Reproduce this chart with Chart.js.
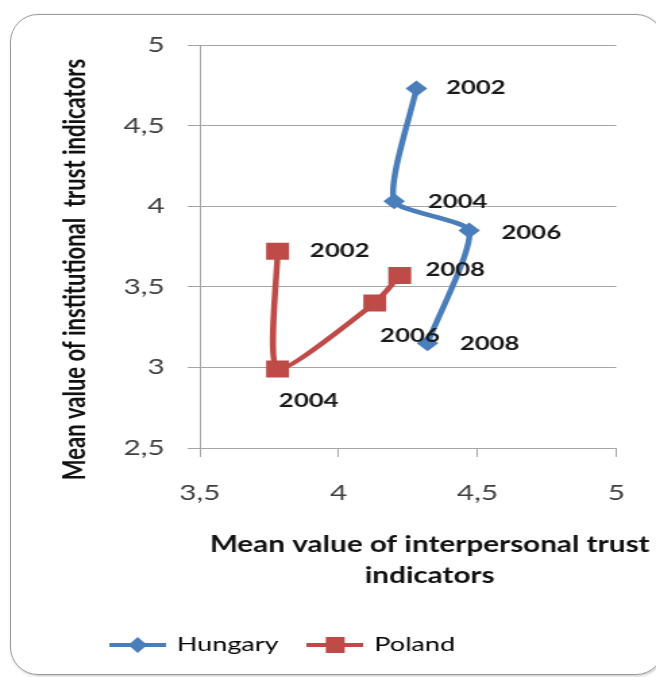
<!DOCTYPE html>
<html>
<head>
<meta charset="utf-8">
<script src="https://cdn.jsdelivr.net/npm/chart.js@4.4.0/dist/chart.umd.min.js"></script>
<style>
  body { margin: 0; background: #fff; }
  #wrap { position: relative; width: 656px; height: 677px; overflow: hidden; }
  #frame {
    position: absolute; left: 10px; top: 14px; width: 652px; height: 659px;
    border: 1.5px solid #9a9a9a; border-radius: 28px;
    box-shadow: 1px 1px 3px rgba(0,0,0,0.25);
  }
  #chart { position: absolute; left: 0; top: 0; transform: scaleX(1.3498); transform-origin: 0 0; }
</style>
</head>
<body>
<div id="wrap">
  <div id="frame"></div>
  <canvas id="chart" width="486" height="677"></canvas>
</div>
<script>
// the original picture is an Excel chart stretched sideways, so the canvas is drawn narrow and scaled in x
const years = ['2002', '2004', '2006', '2008'];
const countries = ['Hungary', 'Poland'];

const hungaryX = [4.28, 4.20, 4.47, 4.32];
const hungaryY = [4.73, 4.03, 3.85, 3.15];
const polandX = [3.78, 3.78, 4.13, 4.22];
const polandY = [3.72, 2.99, 3.40, 3.57];

const xTicks = [3.5, 4, 4.5, 5];
const yTicks = [2.5, 3, 3.5, 4, 4.5, 5];

const xTitle = ['Mean value of interpersonal trust', 'indicators'];
const yTitle = 'Mean value of institutional  trust indicators';

const blue = '#4a7ebb';
const red = '#be4b48';

// year label offsets from the point, canvas px
const labelOffsets = [
    [[22, -1], [25, 1], [24, 2], [24, 1]],
    [[24, 0], [1, 32], [4, 33], [19, -6]]
];

function toPoints(xs, ys) {
    let pts = [];
    for (let i = 0; i < xs.length; i++) {
        pts.push({ x: xs[i], y: ys[i] });
    }
    return pts;
}

function comma(v) {
    return String(v).replace('.', ',');
}

// legend swatch: line with the marker in the middle
function legendSwatch(color, shape) {
    const c = document.createElement('canvas');
    c.width = 42;
    c.height = 20;
    const g = c.getContext('2d');
    g.strokeStyle = color;
    g.fillStyle = color;
    g.lineWidth = 4;
    g.beginPath();
    g.moveTo(0, 10);
    g.lineTo(42, 10);
    g.stroke();
    g.beginPath();
    if (shape === 'diamond') {
        g.moveTo(21, 2); g.lineTo(28, 10); g.lineTo(21, 18); g.lineTo(14, 10);
    } else {
        g.rect(14, 2, 14, 16);
    }
    g.fill();
    return c;
}

const swatches = [legendSwatch(blue, 'diamond'), legendSwatch(red, 'square')];

const extras = {
    id: 'extras',
    afterDatasetsDraw(chart) {
        const ctx = chart.ctx;
        const area = chart.chartArea;
        ctx.save();
        ctx.font = 'bold 19px Lato';
        ctx.fillStyle = '#1a1a1a';
        ctx.textBaseline = 'middle';
        ctx.textAlign = 'left';
        chart.data.datasets.forEach((ds, di) => {
            chart.getDatasetMeta(di).data.forEach((pt, i) => {
                const off = labelOffsets[di][i];
                ctx.fillText(years[i], pt.x + off[0], pt.y + off[1]);
            });
        });

        // axis titles
        ctx.font = 'bold 22px Lato';
        ctx.fillStyle = '#111';
        ctx.textAlign = 'center';
        const cx = (area.left + area.right) / 2 + 16;
        ctx.fillText(xTitle[0], cx, 545);
        ctx.fillText(xTitle[1], cx, 576);

        ctx.translate(56, (area.top + area.bottom) / 2 + 23);
        ctx.rotate(-Math.PI / 2);
        ctx.fillText(yTitle, 0, 0);
        ctx.restore();
    }
};

const ctx = document.getElementById('chart').getContext('2d');

new Chart(ctx, {
    type: 'scatter',
    data: {
        datasets: [
            {
                label: countries[0],
                data: toPoints(hungaryX, hungaryY),
                showLine: true,
                tension: 0.2,
                borderColor: blue,
                backgroundColor: blue,
                borderWidth: 4.5,
                pointStyle: 'rectRot',
                pointRadius: 8,
                pointBorderWidth: 0
            },
            {
                label: countries[1],
                data: toPoints(polandX, polandY),
                showLine: true,
                tension: 0.2,
                borderColor: red,
                backgroundColor: red,
                borderWidth: 4.5,
                pointStyle: 'rect',
                pointRadius: 12,
                pointBorderWidth: 0
            }
        ]
    },
    options: {
        responsive: false,
        animation: false,
        devicePixelRatio: 1,
        layout: {
            padding: { left: 60, right: 29, top: 45, bottom: 12 }
        },
        scales: {
            x: {
                type: 'linear',
                min: 3.5,
                max: 5,
                afterBuildTicks: (scale) => { scale.ticks = xTicks.map(v => ({ value: v })); },
                afterFit: (scale) => { scale.height = 164; },
                ticks: {
                    padding: 23,
                    color: '#404040',
                    font: { family: 'Lato', size: 22 },
                    callback: (v) => comma(v)
                },
                grid: {
                    drawOnChartArea: false,
                    drawTicks: true,
                    tickLength: 9,
                    color: '#a6a6a6'
                },
                border: { color: '#a6a6a6' }
            },
            y: {
                type: 'linear',
                min: 2.5,
                max: 5,
                afterBuildTicks: (scale) => { scale.ticks = yTicks.map(v => ({ value: v })); },
                afterFit: (scale) => { scale.width = 88; },
                ticks: {
                    padding: 17,
                    color: '#404040',
                    font: { family: 'Lato', size: 22 },
                    callback: (v) => comma(v)
                },
                grid: {
                    drawTicks: true,
                    tickLength: 9,
                    color: '#a6a6a6'
                },
                border: { color: '#a6a6a6' }
            }
        },
        plugins: {
            tooltip: { enabled: false },
            legend: {
                position: 'bottom',
                align: 'start',
                labels: {
                    usePointStyle: true,
                    pointStyleWidth: 38,
                    padding: 23,
                    color: '#404040',
                    font: { family: 'Lato', size: 20 },
                    generateLabels: (chart) => chart.data.datasets.map((ds, i) => ({
                        text: ds.label,
                        pointStyle: swatches[i],
                        fillStyle: ds.backgroundColor,
                        strokeStyle: ds.borderColor,
                        lineWidth: 0,
                        hidden: false,
                        datasetIndex: i
                    }))
                }
            }
        }
    },
    plugins: [extras]
});
</script>
</body>
</html>
